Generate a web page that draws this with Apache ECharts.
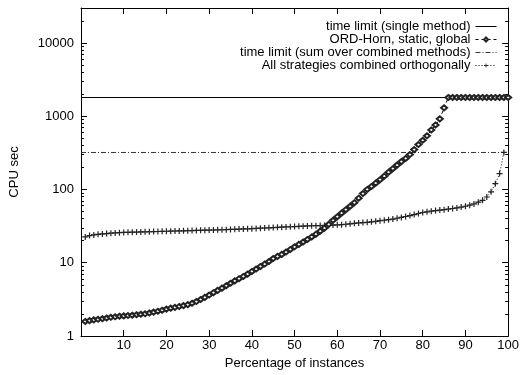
<!DOCTYPE html>
<html>
<head>
<meta charset="utf-8">
<script src="https://cdn.jsdelivr.net/npm/echarts@6/dist/echarts.min.js"></script>
<style>
  html, body { margin: 0; padding: 0; background: #fff; }
  #chart { width: 522px; height: 375px; }
</style>
</head>
<body>
<div id="chart"></div>
<script>
// x positions (percentage of instances)
var pct = [
  1, 2, 3, 4, 5, 6, 7, 8, 9, 10, 11, 12, 13, 14, 15, 16, 17, 18, 19, 20,
  21, 22, 23, 24, 25, 26, 27, 28, 29, 30, 31, 32, 33, 34, 35, 36, 37, 38, 39, 40,
  41, 42, 43, 44, 45, 46, 47, 48, 49, 50, 51, 52, 53, 54, 55, 56, 57, 58, 59, 60,
  61, 62, 63, 64, 65, 66, 67, 68, 69, 70, 71, 72, 73, 74, 75, 76, 77, 78, 79, 80,
  81, 82, 83, 84, 85, 86, 87, 88, 89, 90, 91, 92, 93, 94, 95, 96, 97, 98, 99, 100
];
// ORD-Horn, static, global (CPU sec)
var ordHorn = [
  1.58, 1.62, 1.66, 1.69, 1.72, 1.76, 1.80, 1.83, 1.86, 1.88,
  1.90, 1.92, 1.95, 1.98, 2.01, 2.06, 2.12, 2.18, 2.25, 2.33,
  2.40, 2.46, 2.53, 2.60, 2.68, 2.80, 2.95, 3.15, 3.37, 3.62,
  3.90, 4.20, 4.50, 4.85, 5.25, 5.65, 6.05, 6.50, 7.00, 7.60,
  8.20, 8.90, 9.60, 10.4, 11.4, 12.2, 13.0, 14.0, 15.2, 16.5,
  17.8, 19.2, 20.8, 22.5, 24.5, 27.0, 29.7, 33.5, 38.0, 42.5,
  47.5, 53.0, 59.0, 66.0, 76.0, 88.0, 100, 110, 122, 136,
  152, 172, 192, 215, 240, 265, 300, 350, 410, 470,
  540, 650, 760, 920, 1300, 1800, 1800, 1800, 1800, 1800,
  1800, 1800, 1800, 1800, 1800, 1800, 1800, 1800, 1800, 1800
];
// All strategies combined orthogonally (CPU sec), x = 1..99
var combined = [
  22.5, 23.5, 24.0, 24.4, 24.7, 25.0, 25.3, 25.5, 25.7, 25.9,
  26.0, 26.1, 26.2, 26.3, 26.4, 26.5, 26.6, 26.7, 26.8, 26.9,
  27.0, 27.1, 27.2, 27.3, 27.4, 27.5, 27.6, 27.7, 27.8, 27.9,
  28.0, 28.1, 28.2, 28.3, 28.5, 28.6, 28.8, 28.9, 29.0, 29.2,
  29.4, 29.6, 29.8, 30.0, 30.2, 30.4, 30.6, 30.8, 31.0, 31.2,
  31.4, 31.6, 31.8, 32.0, 32.1, 32.2, 32.3, 32.5, 32.7, 32.9,
  33.1, 33.5, 34.0, 34.5, 35.0, 35.3, 35.6, 36.2, 36.8, 37.5,
  38.0, 38.7, 39.5, 40.5, 41.5, 42.8, 44.0, 45.5, 47.0, 48.5,
  49.5, 50.5, 51.5, 52.3, 53.0, 54.0, 55.0, 56.0, 57.5, 59.0,
  61.0, 63.5, 67.0, 71.0, 79.0, 93.0, 120, 165, 320
];
var singleLimit = 1800;
var combinedLimit = 320;
var xRange = [0, 100];
var yRange = [1, 30000];
var minorTicks = [
  2, 3, 4, 5, 6, 7, 8, 9,
  20, 30, 40, 50, 60, 70, 80, 90,
  200, 300, 400, 500, 600, 700, 800, 900,
  2000, 3000, 4000, 5000, 6000, 7000, 8000, 9000,
  20000, 30000
];
var names = [
  "time limit (single method)",
  "ORD-Horn, static, global",
  "time limit (sum over combined methods)",
  "All strategies combined orthogonally"
];

var font = "'Liberation Sans', Arial, sans-serif";
var black = "#000";
var plusPath = "path://M2,0H3V2H5V3H3V5H2V3H0V2H2Z";

function majorAxis(pos) {
  return {
    type: "log",
    logBase: 10,
    min: yRange[0],
    max: yRange[1],
    interval: 1,
    position: pos,
    axisLine: { show: true, onZero: false, lineStyle: { color: black, width: 1 } },
    axisTick: { show: true, inside: true, length: 6, lineStyle: { color: black } },
    axisLabel: pos === "left"
      ? {
          show: true, showMaxLabel: false, margin: 7, fontSize: 13, color: black, fontFamily: font,
          formatter: function (v) { return String(Math.round(v)); }
        }
      : { show: false },
    splitLine: { show: false }
  };
}

// minor ticks of the log axis, drawn on a linear axis in log10 space
function minorAxis(pos) {
  return {
    type: "value",
    min: Math.log10(yRange[0]),
    max: Math.log10(yRange[1]),
    position: pos,
    axisLine: { show: false, onZero: false },
    axisTick: {
      show: true, inside: true, length: 3,
      customValues: minorTicks.map(function (t) { return Math.log10(t); }),
      lineStyle: { color: black }
    },
    axisLabel: { show: false },
    splitLine: { show: false }
  };
}

var legendTops = [20, 33, 46, 59];
var plainLine = [true, false, true, false];

var chart = echarts.init(document.getElementById("chart"));
chart.setOption({
  animation: false,
  backgroundColor: "#fff",
  grid: { left: 81, right: 11, top: 8, bottom: 36 },
  legend: names.map(function (n, i) {
    var item = { name: n, lineStyle: { width: 1 } };
    if (plainLine[i]) item.itemStyle = { opacity: 0 };
    return {
      data: [item],
      right: 25,
      top: legendTops[i],
      align: "right",
      padding: 0,
      itemWidth: 21,
      itemHeight: 5,
      selectedMode: false,
      textStyle: { fontSize: 13, color: black, fontFamily: font }
    };
  }),
  xAxis: [
    {
      type: "value",
      min: xRange[0],
      max: xRange[1],
      interval: 10,
      position: "bottom",
      name: "Percentage of instances",
      nameLocation: "middle",
      nameGap: 21,
      nameTextStyle: { fontSize: 13, color: black, fontFamily: font },
      axisLine: { onZero: false, lineStyle: { color: black, width: 1 } },
      axisTick: { inside: true, length: 6, lineStyle: { color: black } },
      axisLabel: { showMinLabel: false, margin: 3, fontSize: 13, color: black, fontFamily: font },
      splitLine: { show: false }
    },
    {
      type: "value",
      min: xRange[0],
      max: xRange[1],
      interval: 10,
      position: "top",
      axisLine: { onZero: false, lineStyle: { color: black, width: 1 } },
      axisTick: { inside: true, length: 6, lineStyle: { color: black } },
      axisLabel: { show: false },
      splitLine: { show: false }
    }
  ],
  yAxis: [
    Object.assign(majorAxis("left"), {
      name: "CPU sec",
      nameLocation: "middle",
      nameGap: 60,
      nameTextStyle: { fontSize: 13, color: black, fontFamily: font }
    }),
    minorAxis("left"),
    majorAxis("right"),
    minorAxis("right")
  ],
  series: [
    {
      name: names[0],
      type: "line",
      data: [[xRange[0], singleLimit], [xRange[1], singleLimit]],
      symbol: "none",
      lineStyle: { color: black, width: 1, type: "solid" },
      itemStyle: { color: black },
      z: 1
    },
    {
      name: names[1],
      type: "line",
      data: ordHorn.map(function (v, i) { return [pct[i], v]; }),
      symbol: "emptyDiamond",
      symbolSize: [6, 5],
      lineStyle: { color: black, width: 1, type: [3, 3] },
      itemStyle: { color: "#222", borderWidth: 0.6 },
      z: 3
    },
    {
      name: names[2],
      type: "line",
      data: [[xRange[0], combinedLimit], [xRange[1], combinedLimit]],
      symbol: "none",
      lineStyle: { color: "#333", width: 1, type: [5, 2, 1, 2] },
      itemStyle: { color: "#333" },
      z: 1
    },
    {
      name: names[3],
      type: "line",
      data: combined.map(function (v, i) { return [pct[i], v]; }),
      symbol: plusPath,
      symbolSize: 6,
      lineStyle: { color: black, width: 1, type: [1, 2] },
      itemStyle: { color: "#222" },
      z: 2
    }
  ]
});
</script>
</body>
</html>
